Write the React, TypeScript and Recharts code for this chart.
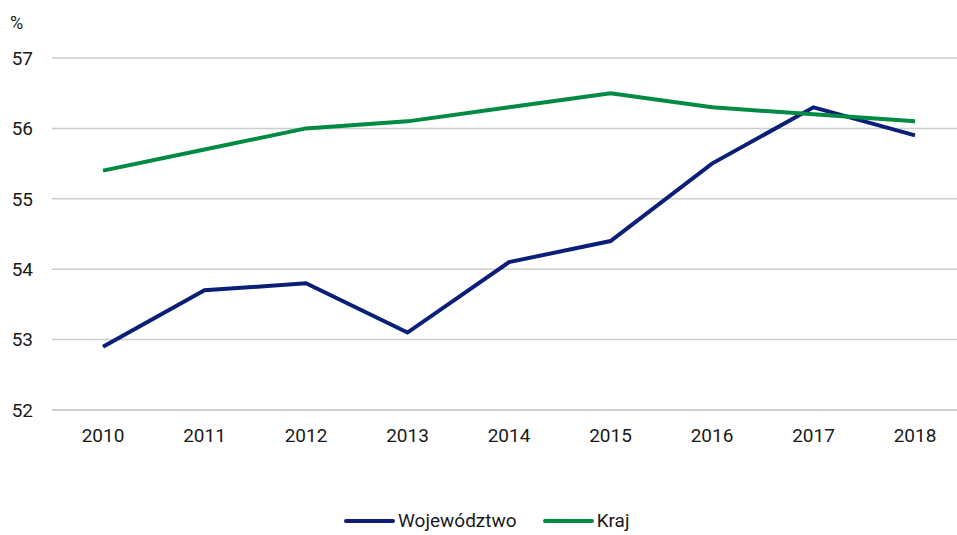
import { LineChart, Line, XAxis, YAxis, CartesianGrid } from 'recharts'

const years = ['2010', '2011', '2012', '2013', '2014', '2015', '2016', '2017', '2018']
const wojewodztwo = [52.9, 53.7, 53.8, 53.1, 54.1, 54.4, 55.5, 56.3, 55.9]
const kraj = [55.4, 55.7, 56.0, 56.1, 56.3, 56.5, 56.3, 56.2, 56.1]
const yTicks = [52, 53, 54, 55, 56, 57]

const seriesNames = ['Województwo', 'Kraj']
const NAVY = '#0b1f78'
const GREEN = '#008a44'

const data = years.map((year, i) => ({
  year,
  wojewodztwo: wojewodztwo[i],
  kraj: kraj[i],
}))

const font = 'Roboto, "Open Sans", sans-serif'
const tickStyle = { fontSize: 19, fill: '#1a1a1a', fontFamily: font }

function LegendItem({ color, label }: { color: string; label: string }) {
  return (
    <div style={{ display: 'flex', alignItems: 'center', marginRight: 26 }}>
      <div style={{ width: 51, height: 4, background: color, borderRadius: 2, marginRight: 3 }} />
      <span>{label}</span>
    </div>
  )
}

export default function App() {
  return (
    <div
      style={{
        position: 'absolute',
        left: 0,
        top: 0,
        width: 957,
        height: 535,
        overflow: 'hidden',
        background: '#fff',
        fontFamily: font,
        color: '#1a1a1a',
      }}
    >
      <div style={{ position: 'absolute', left: 10, top: 12, fontSize: 18 }}>%</div>
      <LineChart
        width={966}
        height={535}
        data={data}
        margin={{ top: 58, right: 0, left: 0, bottom: 85 }}
      >
        <CartesianGrid vertical={false} stroke="#cccccc" strokeWidth={1.5} />
        <XAxis
          dataKey="year"
          height={40}
          padding={{ left: 51, right: 51 }}
          axisLine={{ stroke: '#cccccc', strokeWidth: 1.5 }}
          tickLine={false}
          tickSize={6}
          tickMargin={13}
          tick={tickStyle}
          interval={0}
        />
        <YAxis
          domain={[52, 57]}
          ticks={yTicks}
          width={52}
          axisLine={false}
          tickLine={false}
          tickSize={6}
          tickMargin={13}
          tick={tickStyle}
        />
        <Line
          dataKey="wojewodztwo"
          name={seriesNames[0]}
          stroke={NAVY}
          strokeWidth={4}
          dot={false}
          type="linear"
          isAnimationActive={false}
        />
        <Line
          dataKey="kraj"
          name={seriesNames[1]}
          stroke={GREEN}
          strokeWidth={4}
          dot={false}
          type="linear"
          isAnimationActive={false}
        />
      </LineChart>
      <div
        style={{
          position: 'absolute',
          left: 344,
          top: 510,
          display: 'flex',
          fontSize: 19,
          lineHeight: '22px',
        }}
      >
        <LegendItem color={NAVY} label={seriesNames[0]} />
        <LegendItem color={GREEN} label={seriesNames[1]} />
      </div>
    </div>
  )
}
